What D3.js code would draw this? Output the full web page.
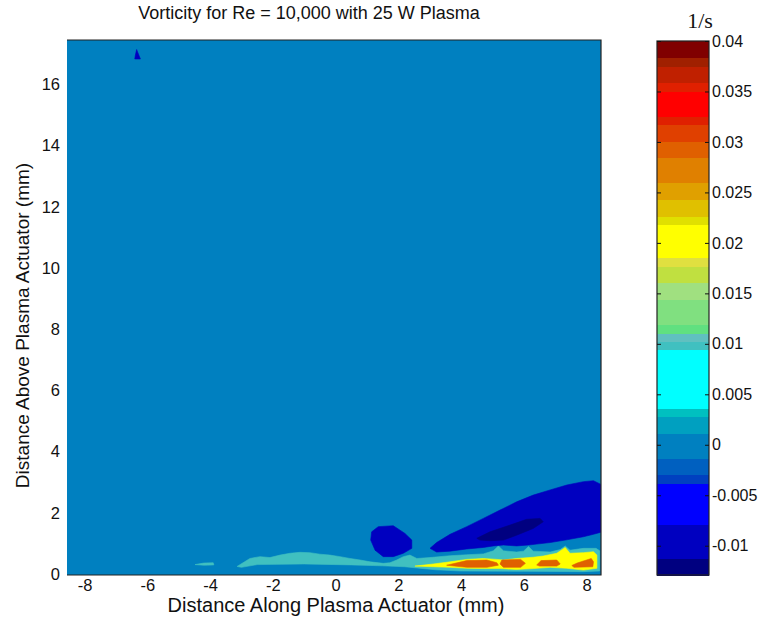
<!DOCTYPE html>
<html><head><meta charset="utf-8">
<script src="https://cdn.jsdelivr.net/npm/d3@7"></script>
<style>body{margin:0;background:#fff}text{font-family:"Liberation Sans",Arial,sans-serif;fill:#111}</style>
</head><body>
<svg id="c" width="771" height="635"></svg>
<script>
// ---------- data ----------
const title = "Vorticity for Re = 10,000 with 25 W Plasma";
const xLabel = "Distance Along Plasma Actuator (mm)";
const yLabel = "Distance Above Plasma Actuator (mm)";
const cbUnit = "1/s";
const xTicks = [-8,-6,-4,-2,0,2,4,6,8];
const yTicks = [0,2,4,6,8,10,12,14,16];
const cbTicks = [-0.01,-0.005,0,0.005,0.01,0.015,0.02,0.025,0.03,0.035,0.04];
const cbTickLabels = ["-0.01","-0.005","0","0.005","0.01","0.015","0.02","0.025","0.03","0.035","0.04"];
const cRange = [-0.0129, 0.04];
// 64-entry colormap, stored as runs (colour, number of entries), bottom to top
const cmapColors = ["#000080","#0000C0","#0000FF","#0040C0","#0060C0","#0080C0","#00A0C0","#00C0C0","#00FFFF","#40C0C0","#60C0C0","#60E080","#80E080","#A0E080","#C0E040","#E0E040","#FFFF00","#E0E000","#E0C000","#E0A000","#E08000","#E06000","#E04000","#E02000","#FF0000","#E02000","#C02000","#A02000","#800000"];
const cmapCounts = [2,4,5,1,2,3,2,1,7,1,1,1,3,2,2,1,4,1,2,2,3,2,2,1,3,1,2,1,2];
// background vorticity level of the field
const backgroundLevel = 0;
// filled contour regions: vorticity level + outline in (mm, mm)
const regionLevels = [0.01, 0.01, 0.02, 0.03, 0.03, 0.03, 0.03, -0.01, -0.01, -0.012, -0.01];
const regionOutlines = [
  // teal band along the wall
  [[-3.14,0.25],[-2.9,0.40],[-2.73,0.51],[-2.41,0.57],[-2.09,0.54],[-1.77,0.62],[-1.45,0.68],[-1.14,0.71],[-0.82,0.70],[-0.50,0.65],[-0.18,0.62],[0.14,0.57],[0.46,0.51],[0.78,0.46],[1.10,0.40],[1.52,0.35],[1.73,0.37],[1.95,0.46],[2.16,0.57],[2.37,0.62],[2.59,0.51],[3.01,0.54],[3.65,0.60],[4.18,0.63],[4.71,0.66],[5.03,0.76],[5.19,0.92],[5.35,0.76],[5.77,0.72],[5.99,0.75],[6.15,0.90],[6.30,0.75],[6.84,0.72],[7.16,0.80],[7.32,0.92],[7.47,0.78],[7.90,0.84],[8.30,0.84],[8.42,0.76],[8.42,0.10],[7.9,0.08],[6.0,0.09],[4.0,0.10],[3.2,0.14],[2.6,0.20],[2.2,0.24],[1.5,0.27],[0.5,0.30],[-1,0.33],[-2.5,0.31],[-3.0,0.22]],
  // small teal streak
  [[-4.48,0.31],[-4.2,0.36],[-3.9,0.37],[-3.88,0.30],[-4.2,0.29]],
  // yellow
  [[2.53,0.26],[3.12,0.33],[3.65,0.40],[4.18,0.48],[4.71,0.51],[5.14,0.48],[5.35,0.46],[5.77,0.51],[6.30,0.55],[6.62,0.59],[7.05,0.68],[7.32,0.87],[7.47,0.68],[7.90,0.70],[8.22,0.73],[8.33,0.62],[8.33,0.19],[7.90,0.13],[7.37,0.19],[6.84,0.22],[6.30,0.18],[5.77,0.15],[5.24,0.18],[4.71,0.18],[4.18,0.19],[3.65,0.22],[3.12,0.24]],
  // orange patches
  [[3.54,0.29],[4.18,0.44],[4.82,0.46],[5.14,0.37],[5.19,0.29],[4.82,0.22],[4.18,0.22]],
  [[5.24,0.33],[5.30,0.46],[5.90,0.48],[6.05,0.35],[5.90,0.22],[5.35,0.22]],
  [[6.41,0.30],[6.55,0.44],[7.05,0.46],[7.16,0.33],[7.05,0.26],[6.50,0.26]],
  [[7.53,0.28],[7.70,0.36],[8.15,0.51],[8.22,0.40],[8.20,0.24],[7.60,0.22]],
  // dark blue round vortex
  [[1.36,1.55],[1.84,1.58],[2.21,1.33],[2.43,1.11],[2.43,0.84],[2.16,0.68],[1.84,0.57],[1.52,0.57],[1.26,0.78],[1.12,1.11],[1.15,1.38]],
  // dark blue shear layer
  [[3.01,0.84],[3.22,1.03],[3.65,1.30],[4.18,1.55],[4.71,1.82],[5.24,2.09],[5.77,2.36],[6.30,2.58],[6.84,2.75],[7.37,2.91],[7.90,3.02],[8.22,3.05],[8.50,2.91],[8.50,1.38],[8.22,1.30],[7.90,1.22],[7.37,1.12],[6.84,1.03],[6.41,0.98],[6.15,0.95],[5.77,0.92],[5.35,0.95],[5.03,0.92],[4.71,0.87],[4.18,0.82],[3.65,0.75],[3.22,0.72]],
  // navy core
  [[4.50,1.17],[4.92,1.38],[5.56,1.60],[6.09,1.79],[6.52,1.82],[6.62,1.71],[6.30,1.49],[5.77,1.27],[5.35,1.11],[4.92,1.09],[4.60,1.11]],
  // tiny blue spot near the top
  [[-6.34,17.14],[-6.30,17.03],[-6.22,16.83],[-6.40,16.83],[-6.38,16.96]]
];

// ---------- layout ----------
const svg = d3.select("#c");
const P = {l:67, r:601, t:40, b:575};
const CB = {l:657, r:709, t:41, b:575};
const x = d3.scaleLinear().domain([-8.56, 8.46]).range([P.l, P.r]);
const y = d3.scaleLinear().domain([-0.03, 17.45]).range([P.b, P.t]);

// colormap lookup
const cmap = [];
cmapColors.forEach((c,i)=>{ for(let k=0;k<cmapCounts[i];k++) cmap.push(c); });
const cIndex = d3.scaleQuantize().domain(cRange).range(d3.range(cmap.length));
const colorOf = v => cmap[Math.max(0, Math.min(cmap.length-1, cIndex(v)))];

// axes (drawn first, MATLAB layer=bottom)
const fs = 16.5;
const gx = svg.append("g").attr("transform",`translate(0,${P.b})`)
  .call(d3.axisBottom(x).tickValues(xTicks).tickSize(0).tickPadding(4).tickFormat(d=>String(d)));
gx.select(".domain").remove();
gx.selectAll("text").attr("font-size",fs).attr("font-family",null);
const gy = svg.append("g").attr("transform",`translate(${P.l},0)`)
  .call(d3.axisLeft(y).tickValues(yTicks).tickSize(0).tickPadding(7).tickFormat(d=>String(d)));
gy.select(".domain").remove();
gy.selectAll("text").attr("font-size",fs).attr("font-family",null);

// contour field
svg.append("clipPath").attr("id","clip").append("rect")
  .attr("x",P.l).attr("y",P.t).attr("width",P.r-P.l).attr("height",P.b-P.t);
const field = svg.append("g").attr("clip-path","url(#clip)");
field.append("rect").attr("x",x(-8.56)).attr("y",y(17.45))
  .attr("width",x(8.46)-x(-8.56)).attr("height",y(-0.03)-y(17.45))
  .attr("fill",colorOf(backgroundLevel));
const line = d3.line().x(d=>x(d[0])).y(d=>y(d[1])).curve(d3.curveLinearClosed);
field.selectAll("path.reg").data(regionOutlines).join("path").attr("class","reg")
  .attr("d",line).attr("fill",(d,i)=>colorOf(regionLevels[i]))
  .attr("stroke",(d,i)=>colorOf(regionLevels[i])).attr("stroke-width",0.6);

// frame (top, right, bottom)
svg.append("path").attr("d",`M${P.l},${P.t}H${P.r}V${P.b}H${P.l}`)
  .attr("fill","none").attr("stroke","#222").attr("stroke-width",1.2);

// title & labels
svg.append("text").attr("x",(P.l+P.r)/2-25).attr("y",19).attr("text-anchor","middle")
  .attr("font-size",18).text(title);
svg.append("text").attr("x",(P.l+P.r)/2+2).attr("y",612).attr("text-anchor","middle")
  .attr("font-size",20).text(xLabel);
svg.append("text").attr("transform",`translate(29,${(P.t+P.b)/2+18}) rotate(-90)`)
  .attr("text-anchor","middle").attr("font-size",19).text(yLabel);

// colorbar (one rect per colour run)
const cy = d3.scaleLinear().domain(cRange).range([CB.b, CB.t]);
const step = (cRange[1]-cRange[0])/cmap.length;
const starts = d3.cumsum([0, ...cmapCounts]);
svg.append("g").attr("shape-rendering","crispEdges").selectAll("rect").data(cmapColors).join("rect")
  .attr("x",CB.l).attr("width",CB.r-CB.l)
  .attr("y",(d,i)=>cy(cRange[0]+starts[i+1]*step))
  .attr("height",(d,i)=>cy(cRange[0]+starts[i]*step)-cy(cRange[0]+starts[i+1]*step)+0.5)
  .attr("fill",d=>d);
svg.append("rect").attr("x",CB.l).attr("y",CB.t).attr("width",CB.r-CB.l).attr("height",CB.b-CB.t)
  .attr("fill","none").attr("stroke","#222").attr("stroke-width",1.2);
const gcr = svg.append("g").attr("transform",`translate(${CB.r},0)`)
  .call(d3.axisRight(cy).tickValues(cbTicks).tickSize(-4).tickPadding(3).tickFormat((d,i)=>cbTickLabels[i]));
gcr.select(".domain").remove();
gcr.selectAll("line").attr("stroke","#111");
gcr.selectAll("text").attr("font-size",16).attr("font-family",null);
const gcl = svg.append("g").attr("transform",`translate(${CB.l},0)`)
  .call(d3.axisLeft(cy).tickValues(cbTicks).tickSize(-4).tickFormat(""));
gcl.select(".domain").remove();
gcl.selectAll("line").attr("stroke","#111");
svg.append("text").attr("x",700).attr("y",28).attr("text-anchor","middle")
  .style("font-family","'Liberation Serif','Times New Roman',serif").attr("font-size",22).text(cbUnit);
</script>
</body></html>
